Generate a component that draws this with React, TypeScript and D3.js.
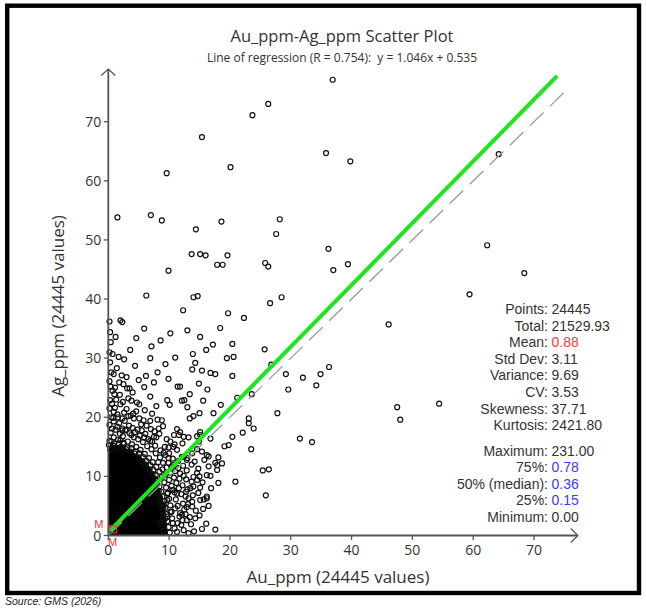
import React, { useEffect, useRef } from "react";
import * as d3 from "d3";

// axis ticks (ppm)
const auTicks = [0, 10, 20, 30, 40, 50, 60, 70];
const agTicks = [0, 10, 20, 30, 40, 50, 60, 70];
const auAxisEnd = 77.2;
const agAxisEnd = 78.9;

// regression y = 1.046x + 0.535 and the 1:1 reference line
const slope = 1.046;
const intercept = 0.535;
const regressionEnd = 73.8;
const identityEnd = 75.6;

const meanAu = 0.88;
const meanAg = 1.46;
const medianAu = 0.36;
const medianAg = 0.4;

// saturated core of the cloud, [Au, top Ag]
const coreEdge = [
    [0, 15.0], [0.5, 15.5], [1.0, 15.3], [1.7, 15.3], [2.5, 15.3], [3.1, 14.6], [3.8, 14.4],
    [4.5, 13.8], [5.1, 13.5], [5.7, 12.9], [6.3, 12.2], [6.9, 11.5], [7.4, 10.7], [7.8, 9.8],
    [8.1, 9.0], [8.4, 8.0], [8.7, 7.1], [8.9, 6.3], [9.2, 5.4], [9.4, 4.4], [9.5, 3.3],
    [9.6, 2.2], [9.7, 1.2], [9.8, 0]
];

// individual samples, [Au_ppm, Ag_ppm]
const outliers = [
    [36.9, 77.1], [26.3, 73.0], [23.7, 71.1], [15.4, 67.4], [35.8, 64.7], [39.8, 63.3], [20.1, 62.3],
    [9.6, 61.3], [1.5, 53.8], [7.0, 54.2], [8.8, 53.3], [14.4, 51.8], [18.6, 53.1], [28.2, 53.5],
    [27.6, 51.0], [36.2, 48.5], [37.0, 44.9], [39.4, 45.9], [13.7, 47.6], [15.1, 47.6], [16.0, 47.4],
    [19.6, 47.4], [17.9, 45.8], [18.8, 45.8], [25.8, 46.1], [26.3, 45.5], [9.9, 44.8], [6.25, 40.6],
    [14.0, 40.3], [14.7, 40.5], [26.6, 39.3], [28.5, 40.3], [64.2, 64.5], [62.3, 49.1], [68.4, 44.4],
    [59.4, 40.8], [22.3, 36.8], [46.1, 35.7], [20.4, 32.4], [20.6, 30.2], [25.7, 31.5], [20.4, 27.0],
    [26.8, 28.9], [29.2, 27.3], [32.0, 26.7], [34.9, 27.3], [36.3, 28.5], [34.2, 25.4], [29.6, 24.7],
    [21.2, 23.3], [23.6, 23.9], [27.8, 20.7], [23.1, 19.8], [23.1, 19.0], [23.9, 18.1], [22.1, 17.4],
    [20.4, 16.7], [47.5, 21.7], [48.0, 19.6], [54.4, 22.3], [31.5, 16.4], [33.5, 15.8], [25.4, 11.0],
    [26.4, 11.2], [25.9, 6.8], [23.5, 14.6], [20.9, 9.1], [17.6, 1.0]
];

const midCloud = [
    [3.6, 31.4], [6.9, 30.0], [11.0, 30.1], [13.9, 30.7], [14.3, 29.2], [19.5, 30.0], [4.4, 28.7],
    [13.8, 28.1], [15.4, 27.9], [16.8, 27.5], [17.6, 27.3], [1.0, 23.9], [1.8, 25.9], [3.0, 26.8],
    [3.1, 24.9], [3.5, 24.9], [5.9, 25.1], [7.5, 25.9], [9.9, 26.5], [11.4, 25.2], [11.8, 25.2],
    [14.9, 25.7], [16.3, 24.7], [6.9, 23.5], [3.8, 22.8], [4.7, 22.5], [5.1, 22.2], [9.7, 22.9],
    [10.1, 22.1], [12.1, 22.8], [12.5, 22.9], [13.4, 23.9], [15.6, 22.8], [13.0, 21.7], [18.5, 22.1],
    [0.9, 20.9], [1.5, 20.5], [2.6, 20.8], [4.2, 19.8], [5.1, 19.8], [5.8, 19.5], [6.9, 19.4],
    [8.1, 19.6], [8.8, 19.5], [13.4, 19.8], [15.0, 20.7], [17.3, 20.7], [2.3, 17.8], [2.8, 17.8],
    [5.5, 17.8], [7.5, 16.7], [8.3, 18.1], [9.0, 18.5], [11.3, 18.0], [11.8, 17.5], [14.0, 20.2],
    [14.9, 15.9], [15.1, 17.0], [16.8, 16.4], [19.1, 15.1], [19.8, 15.3], [2.0, 16.1], [2.5, 15.5],
    [10.2, 15.9], [10.9, 15.4], [12.4, 13.3], [13.0, 13.1], [14.6, 14.6], [15.4, 14.2], [16.2, 13.6],
    [17.9, 11.9], [18.7, 12.2], [16.2, 10.2], [16.8, 10.1], [14.6, 10.6], [18.1, 8.9], [14.0, 8.3],
    [15.1, 8.1], [12.7, 6.6], [13.2, 6.3], [15.1, 6.0], [15.7, 6.1], [16.2, 6.6], [11.8, 3.8],
    [12.7, 3.6], [9.7, 3.2], [10.5, 2.9], [13.8, 4.9], [11.4, 2.1], [8.6, 5.4], [9.1, 4.9],
    [9.7, 7.1], [10.5, 7.7], [11.8, 10.5], [12.4, 10.1], [10.7, 11.9], [9.4, 13.6], [9.9, 13.1],
    [13.2, 16.6], [11.3, 14.5], [13.8, 5.7], [12.9, 4.8], [12.1, 3.5], [14.3, 2.9], [16.5, 5.0],
    [16.2, 6.3], [17.9, 11.1], [17.6, 12.3], [18.1, 13.2], [15.8, 12.8], [16.5, 13.4], [14.6, 16.8],
    [15.1, 17.5], [12.4, 16.7], [11.6, 17.0], [10.7, 15.0], [10.0, 13.9], [12.1, 13.3], [12.9, 12.8],
    [14.0, 9.9], [14.6, 9.4], [10.7, 7.7], [11.3, 7.1], [9.7, 6.0], [9.1, 5.2], [8.6, 2.1],
    [9.4, 2.9], [10.2, 4.0]
];

const coreFringe = [
    [0.3, 14.5], [0.8, 15.2], [1.4, 14.8], [2.1, 15.0], [2.9, 14.6], [3.6, 14.2], [4.3, 13.9],
    [5.0, 13.2], [5.6, 12.6], [6.2, 12.0], [6.8, 11.2], [7.3, 10.4], [7.7, 9.6], [8.0, 8.6],
    [8.3, 7.5], [8.5, 6.4], [8.7, 5.2], [8.9, 4.1], [9.0, 3.0], [9.1, 1.9], [9.2, 0.8],
    [0.2, 16.0], [0.9, 16.6], [1.6, 16.2], [2.4, 16.8], [3.2, 15.9], [3.9, 15.4], [4.6, 15.0],
    [5.3, 14.5], [6.0, 13.8], [6.7, 13.1], [7.3, 12.4], [7.9, 11.6], [8.4, 10.8], [8.8, 9.9],
    [9.2, 9.0], [9.5, 8.1], [9.8, 7.2], [10.0, 6.2], [10.2, 5.1], [10.4, 4.0], [10.6, 2.1],
    [10.9, 1.2], [11.3, 0.6], [0.4, 17.4], [1.2, 17.9], [1.9, 17.2], [3.5, 17.3], [4.2, 16.6],
    [4.9, 16.3], [5.7, 15.8], [6.4, 15.1], [7.1, 14.6], [7.8, 13.9], [8.5, 13.2], [9.0, 12.3],
    [9.6, 11.5], [10.2, 10.6], [10.8, 9.8], [11.2, 8.9], [11.6, 8.0], [12.0, 7.0], [12.3, 5.4],
    [12.9, 2.6], [0.2, 18.7], [0.9, 19.3], [1.8, 19.0], [2.7, 19.4], [3.4, 18.6], [4.0, 18.2],
    [4.8, 17.9], [6.1, 17.2], [6.9, 16.0], [7.7, 15.2], [8.6, 14.4], [9.3, 15.0], [9.9, 12.3],
    [10.6, 13.0], [11.5, 11.4], [12.3, 11.8], [12.8, 9.5], [13.5, 8.0], [13.9, 6.8], [14.4, 4.2],
    [13.4, 3.1], [0.5, 20.0], [1.1, 21.6], [2.0, 22.2], [3.0, 21.4], [3.7, 20.3], [4.6, 21.0],
    [6.0, 21.2], [7.2, 20.6], [7.9, 21.9], [8.4, 17.2], [9.6, 16.3], [10.8, 17.0], [12.2, 15.6],
    [13.7, 12.0], [14.8, 11.3], [15.5, 9.0], [16.9, 8.0], [15.0, 3.4], [16.1, 2.0], [0.3, 22.9],
    [0.7, 24.5], [0.2, 26.1], [0.5, 27.6], [0.3, 29.3], [0.2, 31.0], [0.4, 32.7], [0.2, 36.2],
    [1.4, 28.3], [2.2, 27.1], [2.6, 29.8], [2.0, 36.4], [2.3, 36.1], [4.6, 33.4], [7.1, 32.0],
    [8.6, 33.0], [12.3, 38.1], [10.2, 34.2], [13.0, 34.7], [15.1, 33.6], [17.2, 32.3], [18.4, 35.1],
    [19.7, 37.6], [16.1, 31.4], [5.9, 35.0], [9.4, 29.0], [8.1, 27.6], [6.2, 27.0], [5.0, 26.3],
    [0.1, 15.3], [0.5, 15.9], [1.0, 15.6], [1.7, 15.6], [2.5, 15.7], [3.1, 14.9], [3.8, 14.8],
    [4.5, 14.2], [5.1, 13.9], [5.7, 13.3], [6.3, 12.6], [6.9, 11.9], [7.4, 11.1], [7.8, 10.2],
    [8.1, 9.3], [8.4, 8.3], [8.7, 7.4], [8.9, 6.6], [9.2, 5.8], [9.4, 4.7], [9.6, 3.6],
    [9.7, 2.4], [9.9, 1.4], [10.1, 0.5], [0.6, 18.1], [1.5, 18.4], [2.3, 18.1], [3.0, 17.9],
    [3.8, 17.0], [4.4, 17.5], [5.2, 16.9], [5.9, 16.6], [6.6, 16.3], [7.2, 15.9], [7.9, 16.6],
    [8.2, 12.4], [8.9, 11.2], [9.4, 10.3], [10.0, 9.4], [10.4, 8.4], [10.9, 7.3], [11.1, 6.1],
    [11.4, 5.0], [11.7, 3.2], [12.0, 1.8], [12.4, 0.9], [0.8, 19.9], [1.6, 20.0], [2.3, 19.8],
    [3.3, 20.2], [4.1, 20.6], [5.4, 18.8], [6.3, 18.6], [7.0, 18.0], [7.6, 17.6], [9.1, 14.0],
    [9.9, 14.9], [10.4, 11.6], [11.0, 10.9], [11.7, 9.6], [12.2, 8.5], [12.8, 7.4], [13.1, 5.3],
    [13.6, 1.9], [14.1, 0.7], [0.2, 21.5], [0.6, 22.3],
    [1.3, 23.0], [1.9, 23.8], [2.4, 22.6], [3.3, 23.2], [0.4, 25.2], [1.1, 25.0], [2.5, 25.6],
    [4.0, 24.2], [0.9, 27.3], [1.7, 30.2], [0.7, 30.7], [1.2, 33.6], [0.3, 34.4], [11.0, 4.6],
    [12.5, 4.4], [13.0, 7.8], [13.7, 9.1], [14.8, 7.2], [15.6, 4.5], [12.2, 2.6], [13.2, 0.4],
    [15.4, 1.1], [11.5, 12.6], [12.9, 11.0], [13.8, 13.9], [14.2, 12.5], [15.0, 10.0], [16.5, 11.7]
];

// summary statistics panel
const statLabels = ["Points", "Total", "Mean", "Std Dev", "Variance", "CV", "Skewness", "Kurtosis"];
const statValues = ["24445", "21529.93", "0.88", "3.11", "9.69", "3.53", "37.71", "2421.80"];
const pctLabels = ["Maximum", "75%", "50% (median)", "25%", "Minimum"];
const pctValues = ["231.00", "0.78", "0.36", "0.15", "0.00"];

var width = 646, height = 610;

function App() {
    const ref = useRef<SVGSVGElement>(null);

    useEffect(() => {
        chart();
    }, []);

    return (
        <svg ref={ref} width={width} height={height}
            style={{ position: "absolute", left: 0, top: 0, background: "#fff" }}></svg>
    );

    function chart() {
        var svg = d3.select(ref.current);
        svg.selectAll("*").remove();

        var x = d3.scaleLinear().domain([0, 70]).range([108.3, 534]);
        var y = d3.scaleLinear().domain([0, 70]).range([535.5, 121.7]);
        var axisColor = "#555";
        var textColor = "#333";

        // frame
        svg.append("rect")
            .attr("x", 7.2).attr("y", 5.7)
            .attr("width", 631.8).attr("height", 587.3)
            .attr("fill", "none")
            .attr("stroke", "#000")
            .attr("stroke-width", 4.4);

        svg.append("text")
            .attr("x", 5).attr("y", 605)
            .attr("font-family", "Liberation Sans, Arial, sans-serif")
            .attr("font-style", "italic")
            .attr("font-size", 10.5)
            .attr("fill", "#222")
            .text("Source: GMS (2026)");

        // titles
        svg.append("text")
            .attr("x", 342).attr("y", 42)
            .attr("text-anchor", "middle")
            .attr("font-family", "Open Sans, sans-serif")
            .attr("font-size", 16.5)
            .attr("fill", textColor)
            .text("Au_ppm-Ag_ppm Scatter Plot");
        svg.append("text")
            .attr("x", 342).attr("y", 62)
            .attr("text-anchor", "middle")
            .attr("font-family", "Open Sans, sans-serif")
            .attr("font-size", 12)
            .attr("fill", textColor)
            .attr("xml:space", "preserve")
            .text(`Line of regression (R = 0.754):  y = ${slope}x + ${intercept}`);

        // points
        var all = outliers.concat(midCloud, coreFringe);
        svg.append("path")
            .datum(coreEdge)
            .attr("fill", "#000")
            .attr("d", d3.area<number[]>()
                .x(d => x(d[0]))
                .y0(y(0))
                .y1(d => y(d[1])) as any);
        svg.append("g")
            .selectAll("circle")
            .data(all)
            .enter()
            .append("circle")
            .attr("cx", d => x(d[0]))
            .attr("cy", d => y(d[1]))
            .attr("r", 2.5)
            .attr("fill", "none")
            .attr("stroke", "#111")
            .attr("stroke-width", 1.2);

        // 1:1 line and regression line
        svg.append("line")
            .attr("x1", x(0)).attr("y1", y(0))
            .attr("x2", x(identityEnd)).attr("y2", y(identityEnd))
            .attr("stroke", "#999")
            .attr("stroke-width", 1.3)
            .attr("stroke-dasharray", "19,9");
        svg.append("line")
            .attr("x1", x(0)).attr("y1", y(intercept))
            .attr("x2", x(regressionEnd)).attr("y2", y(slope * regressionEnd + intercept))
            .attr("stroke", "#1ee61e")
            .attr("stroke-width", 4);

        // axes
        var ax = svg.append("g");
        ax.append("line")
            .attr("x1", x(0)).attr("y1", y(0))
            .attr("x2", x(auAxisEnd)).attr("y2", y(0))
            .attr("stroke", axisColor).attr("stroke-width", 1.8);
        ax.append("line")
            .attr("x1", x(0)).attr("y1", y(0))
            .attr("x2", x(0)).attr("y2", y(agAxisEnd))
            .attr("stroke", axisColor).attr("stroke-width", 1.8);
        var xe = x(auAxisEnd), ye = y(agAxisEnd);
        ax.append("path")
            .attr("d", `M${xe - 7},${y(0) - 7}L${xe},${y(0)}L${xe - 7},${y(0) + 7}`)
            .attr("fill", "none").attr("stroke", axisColor).attr("stroke-width", 1.3);
        ax.append("path")
            .attr("d", `M${x(0) - 7},${ye + 6.5}L${x(0)},${ye}L${x(0) + 7},${ye + 6.5}`)
            .attr("fill", "none").attr("stroke", axisColor).attr("stroke-width", 1.3);

        ax.selectAll(".xt")
            .data(auTicks)
            .enter()
            .append("line")
            .attr("x1", d => x(d)).attr("x2", d => x(d))
            .attr("y1", y(0)).attr("y2", y(0) + 4.5)
            .attr("stroke", axisColor).attr("stroke-width", 1.3);
        ax.selectAll(".xl")
            .data(auTicks)
            .enter()
            .append("text")
            .attr("x", d => x(d)).attr("y", y(0) + 19.5)
            .attr("text-anchor", "middle")
            .attr("font-family", "Open Sans, sans-serif")
            .attr("font-size", 14)
            .attr("fill", textColor)
            .text(d => d);
        ax.selectAll(".yt")
            .data(agTicks)
            .enter()
            .append("line")
            .attr("x1", x(0) - 4.5).attr("x2", x(0))
            .attr("y1", d => y(d)).attr("y2", d => y(d))
            .attr("stroke", axisColor).attr("stroke-width", 1.3);
        ax.selectAll(".yl")
            .data(agTicks)
            .enter()
            .append("text")
            .attr("x", x(0) - 7).attr("y", d => y(d) + 5)
            .attr("text-anchor", "end")
            .attr("font-family", "Open Sans, sans-serif")
            .attr("font-size", 14)
            .attr("fill", textColor)
            .text(d => d);

        svg.append("text")
            .attr("x", 338).attr("y", 583)
            .attr("text-anchor", "middle")
            .attr("font-family", "Open Sans, sans-serif")
            .attr("font-size", 17)
            .attr("fill", textColor)
            .text("Au_ppm (24445 values)");
        svg.append("text")
            .attr("transform", "translate(64,306) rotate(-90)")
            .attr("text-anchor", "middle")
            .attr("font-family", "Open Sans, sans-serif")
            .attr("font-size", 17)
            .attr("fill", textColor)
            .text("Ag_ppm (24445 values)");

        // mean / median markers
        svg.append("rect")
            .attr("x", x(meanAu) - 4).attr("y", y(meanAg) - 1)
            .attr("width", 7).attr("height", 7)
            .attr("fill", "none").attr("stroke", "#ff3030").attr("stroke-width", 1.2);
        svg.append("rect")
            .attr("x", x(medianAu) - 1.5).attr("y", y(medianAg) - 2)
            .attr("width", 3).attr("height", 3)
            .attr("fill", "#3050ff");
        svg.append("text")
            .attr("x", x(0) - 5).attr("y", y(meanAg) + 1)
            .attr("text-anchor", "end")
            .attr("font-family", "Liberation Sans, Arial, sans-serif")
            .attr("font-size", 11)
            .attr("fill", "#ff3030")
            .text("M");
        svg.append("text")
            .attr("x", x(meanAu) - 1).attr("y", y(0) + 10)
            .attr("text-anchor", "middle")
            .attr("font-family", "Liberation Sans, Arial, sans-serif")
            .attr("font-size", 11)
            .attr("fill", "#ff3030")
            .text("M");

        // statistics panel
        var colonX = 548;
        var font = "Liberation Sans, Arial, sans-serif";
        var rows = statLabels.map((l, i) => ({ label: l, value: statValues[i], top: 314 + i * 16.6, color: l === "Mean" ? "#ff3a3a" : textColor }))
            .concat(pctLabels.map((l, i) => ({ label: l, value: pctValues[i], top: 455.5 + i * 16.6, color: l.indexOf("%") >= 0 ? "#3a3aff" : textColor })));
        var st = svg.append("g");
        rows.forEach(r => {
            st.append("text")
                .attr("x", colonX).attr("y", r.top)
                .attr("text-anchor", "end")
                .attr("font-family", font).attr("font-size", 14)
                .attr("fill", textColor)
                .text(r.label + ":");
            st.append("text")
                .attr("x", colonX + 3.5).attr("y", r.top)
                .attr("font-family", font).attr("font-size", 14)
                .attr("fill", r.color)
                .text(r.value);
        });
    }
}

export default App;
